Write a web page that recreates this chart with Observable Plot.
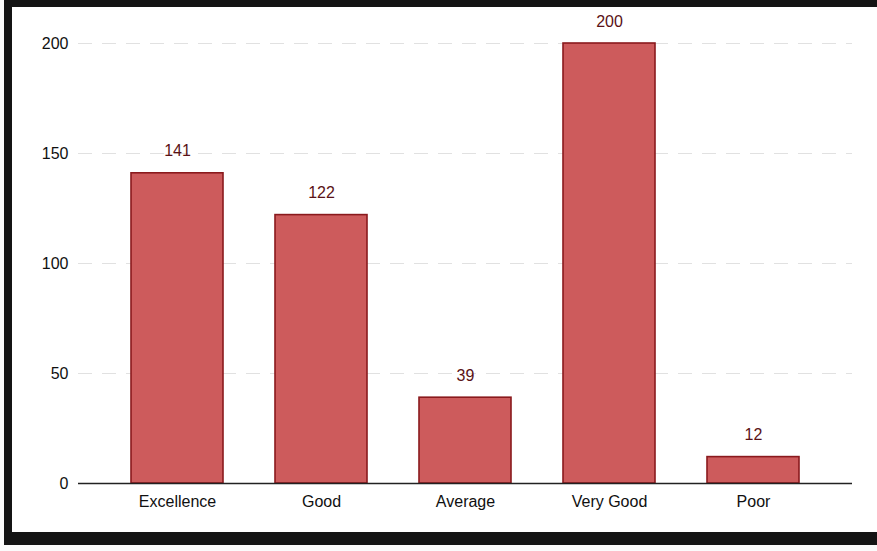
<!DOCTYPE html>
<html>
<head>
<meta charset="utf-8">
<script src="https://cdn.jsdelivr.net/npm/d3@7"></script>
<script src="https://cdn.jsdelivr.net/npm/@observablehq/plot@0.6"></script>
<style>
  html, body { margin: 0; padding: 0; background: #fbfbfb; }
  #wrap {
    position: absolute; left: 4px; top: 0px;
    width: 865px; height: 525px;
    border-left: 8px solid #141414;
    border-top: 7px solid #141414;
    border-bottom: 13px solid #141414;
    background: #ffffff;
    overflow: hidden;
  }
</style>
</head>
<body>
<div id="wrap"></div>
<script>
const categories = ["Excellence", "Good", "Average", "Very Good", "Poor"];
const values = [141, 122, 39, 200, 12];
const yTicks = [0, 50, 100, 150, 200];

const data = categories.map((c, i) => ({category: c, value: values[i]}));

const chart = Plot.plot({
  width: 865,
  height: 525,
  marginLeft: 66,
  marginRight: 25,
  marginTop: 36,
  marginBottom: 49,
  style: {fontFamily: "'Liberation Sans', Arial, sans-serif", fontSize: "16px", color: "#101010", background: "#ffffff"},
  x: {domain: categories, padding: 0.36, label: null},
  y: {domain: [0, 200], label: null},
  marks: [
    Plot.gridY(yTicks.filter(d => d > 0), {stroke: "#c8c8c8", strokeOpacity: 0.55, strokeDasharray: "14,10"}),
    Plot.axisY(yTicks, {tickSize: 0, tickPadding: 10, fontSize: 16, label: null}),
    Plot.axisX({tickSize: 0, tickPadding: 12, fontSize: 16, label: null}),
    Plot.barY(data, {x: "category", y: "value", fill: "#cd5b5c", stroke: "#8a1a1d", strokeWidth: 1.6}),
    Plot.ruleY([0], {stroke: "#222", strokeWidth: 1.3}),
    Plot.text(data, {x: "category", y: "value", text: d => String(d.value), dy: -22, fill: "#5a1216", fontSize: 16})
  ]
});
document.getElementById("wrap").appendChild(chart);
</script>
</body>
</html>
